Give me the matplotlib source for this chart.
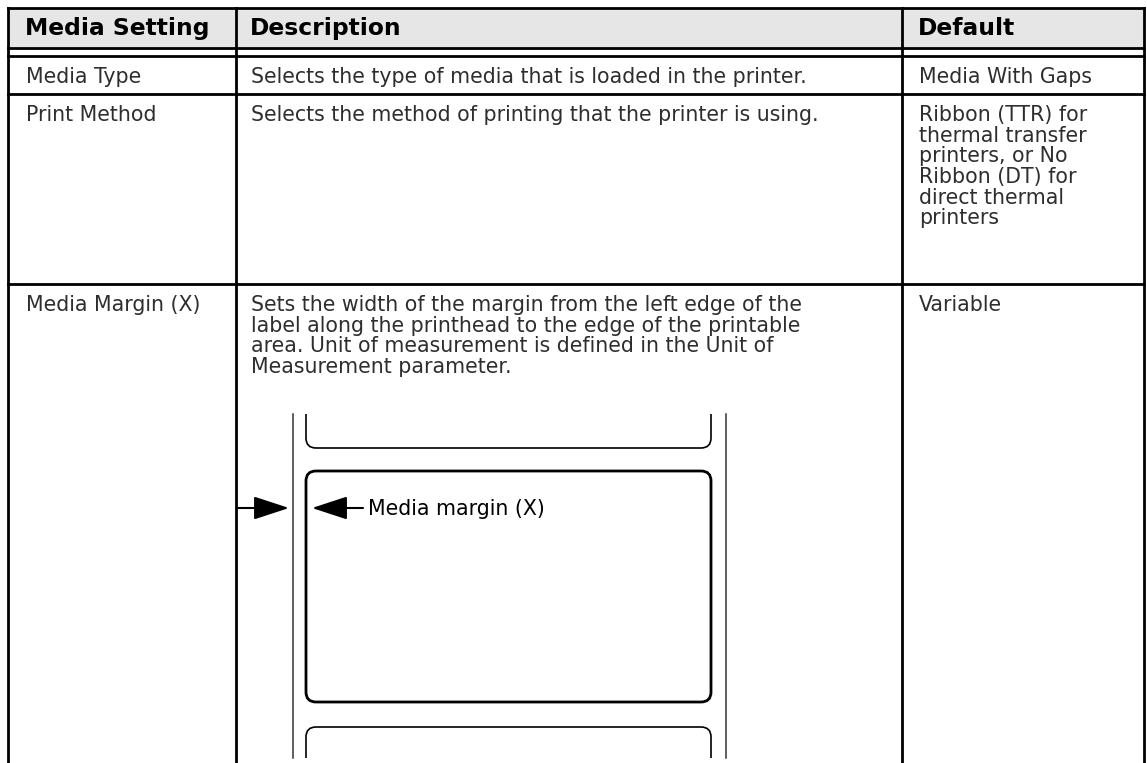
import matplotlib
matplotlib.use('Agg')
import matplotlib.pyplot as plt
from matplotlib.patches import Rectangle, FancyBboxPatch

plt.rcParams['font.family'] = ['DejaVu Sans']

W, H = 1147, 763

headers = ['Media Setting', 'Description', 'Default']
settings = ['Media Type', 'Print Method', 'Media Margin (X)']
descriptions = [
    ['Selects the type of media that is loaded in the printer.'],
    ['Selects the method of printing that the printer is using.'],
    ['Sets the width of the margin from the left edge of the',
     'label along the printhead to the edge of the printable',
     'area. Unit of measurement is defined in the Unit of',
     'Measurement parameter.'],
]
defaults = [
    ['Media With Gaps'],
    ['Ribbon (TTR) for', 'thermal transfer', 'printers, or No',
     'Ribbon (DT) for', 'direct thermal', 'printers'],
    ['Variable'],
]
figure_label = 'Media margin (X)'

# table layout in pixels
col_x = [8, 236, 902, 1144]
text_x = [26, 251, 919]
header_top, header_bot, header_bot2 = 8, 48, 56
row_bottoms = [94, 284]
row_tops = [56, 94, 284]
line_h = 20.7
text_col = '#2e2e2e'
body_size = 14.8

fig = plt.figure(figsize=(W / 100, H / 100), dpi=100)
ax = fig.add_axes([0, 0, 1, 1])
ax.set_xlim(0, W)
ax.set_ylim(H, 0)
ax.axis('off')

lw_tab = 2.0
ax.add_patch(Rectangle((col_x[0], header_top), col_x[-1] - col_x[0],
                       header_bot - header_top, facecolor='#e6e6e6',
                       edgecolor='none'))
for y in [header_top, header_bot, header_bot2] + row_bottoms:
    ax.plot([col_x[0], col_x[-1]], [y, y], color='black', lw=lw_tab,
            solid_capstyle='projecting')
for x in col_x:
    ax.plot([x, x], [header_top, H + 5], color='black', lw=lw_tab,
            solid_capstyle='projecting')

for i, h in enumerate(headers):
    ax.text(text_x[i] - 1, 35, h, fontsize=16.8, fontweight='bold',
            color='black', ha='left', va='baseline')

for r in range(len(settings)):
    yb = row_tops[r] + 27
    ax.text(text_x[0], yb, settings[r], fontsize=body_size,
            color=text_col, ha='left', va='baseline')
    for k, line in enumerate(descriptions[r]):
        ax.text(text_x[1], yb + k * line_h, line, fontsize=body_size,
                color=text_col, ha='left', va='baseline')
    for k, line in enumerate(defaults[r]):
        ax.text(text_x[2], yb + k * line_h, line, fontsize=body_size,
                color=text_col, ha='left', va='baseline')

# media drawing
draw_top, draw_bot = 414, 758
for x in [293, 726]:
    ax.plot([x, x], [draw_top, draw_bot], color='#333333', lw=1.1)

lx0, lx1 = 306, 711
clip = Rectangle((0, draw_top), W, draw_bot - draw_top, transform=ax.transData)
labels = [(380, 448, 1.2), (471, 702, 2.0), (727, 800, 1.2)]
for top, bot, lw in labels:
    p = FancyBboxPatch((lx0, top), lx1 - lx0, bot - top,
                       boxstyle='round,pad=0,rounding_size=10',
                       facecolor='none', edgecolor='black', lw=lw)
    ax.add_patch(p)
    p.set_clip_path(clip)

arrow_y = 508
style = '-|>,head_length=1.1,head_width=0.36'
ax.annotate('', xy=(289, arrow_y), xytext=(238, arrow_y),
            arrowprops=dict(arrowstyle=style, mutation_scale=20,
                            color='black', lw=1.5, shrinkA=0, shrinkB=0))
ax.annotate('', xy=(312, arrow_y), xytext=(363, arrow_y),
            arrowprops=dict(arrowstyle=style, mutation_scale=20,
                            color='black', lw=1.5, shrinkA=0, shrinkB=0))
ax.text(368, arrow_y + 7, figure_label, fontsize=body_size, color='black',
        ha='left', va='baseline')

fig.savefig('out.png', dpi=100)
